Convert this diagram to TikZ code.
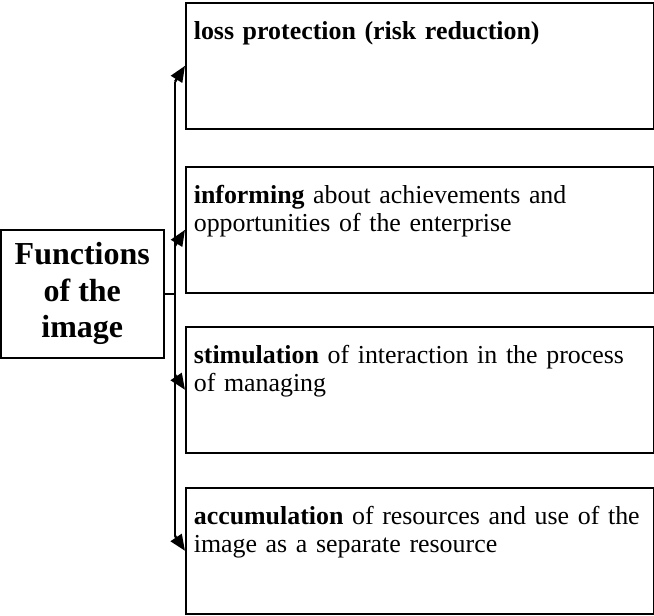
\documentclass[tikz,border=0pt]{standalone}
\usepackage{fontspec}
\setmainfont{Liberation Serif}
\usetikzlibrary{arrows.meta}

\begin{document}
\begin{tikzpicture}[x=0.5pt, y=-0.5pt,
	fn/.style={draw, line width=0.8pt, anchor=north west, align=left, text width=226pt, inner xsep=4pt, inner ysep=0pt, text height=18.5pt, text depth=44.5pt, font=\fontsize{12.95}{14}\selectfont},
	arr/.style={line width=1.2pt, -{Triangle[length=8pt, width=6.5pt]}}]
	\useasboundingbox (0,0) rectangle (654,616);
	\node[draw, line width=0.8pt, anchor=north west, minimum width=81.5pt, minimum height=64pt, align=center, font=\fontsize{16}{18.3}\selectfont\bfseries] (main) at (0,229) {Functions\\of the\\image};
	\node[fn] (f1) at (185,2) {\textbf{loss protection (risk reduction)}};
	\node[fn] (f2) at (185,166) {\textbf{informing} about achievements and\\opportunities of the enterprise};
	\node[fn] (f3) at (185,326) {\textbf{stimulation} of interaction in the process\\of managing};
	\node[fn] (f4) at (185,487) {\textbf{accumulation} of resources and use of the\\image as a separate resource};
	\coordinate (trunk) at (175,0);
	\draw[line width=1.2pt] ([yshift=-8pt]f1.west -| trunk) -- ([yshift=7.5pt]f4.west -| trunk);
	\draw[line width=1.2pt] (main.east) -- (main.east -| trunk);
	\draw[arr] ([yshift=-8pt]f1.west -| trunk) -- (f1.west);
	\draw[arr] ([yshift=-8pt]f2.west -| trunk) -- (f2.west);
	\draw[arr] ([yshift=7.5pt]f3.west -| trunk) -- (f3.west);
	\draw[arr] ([yshift=7.5pt]f4.west -| trunk) -- (f4.west);
\end{tikzpicture}
\end{document}
